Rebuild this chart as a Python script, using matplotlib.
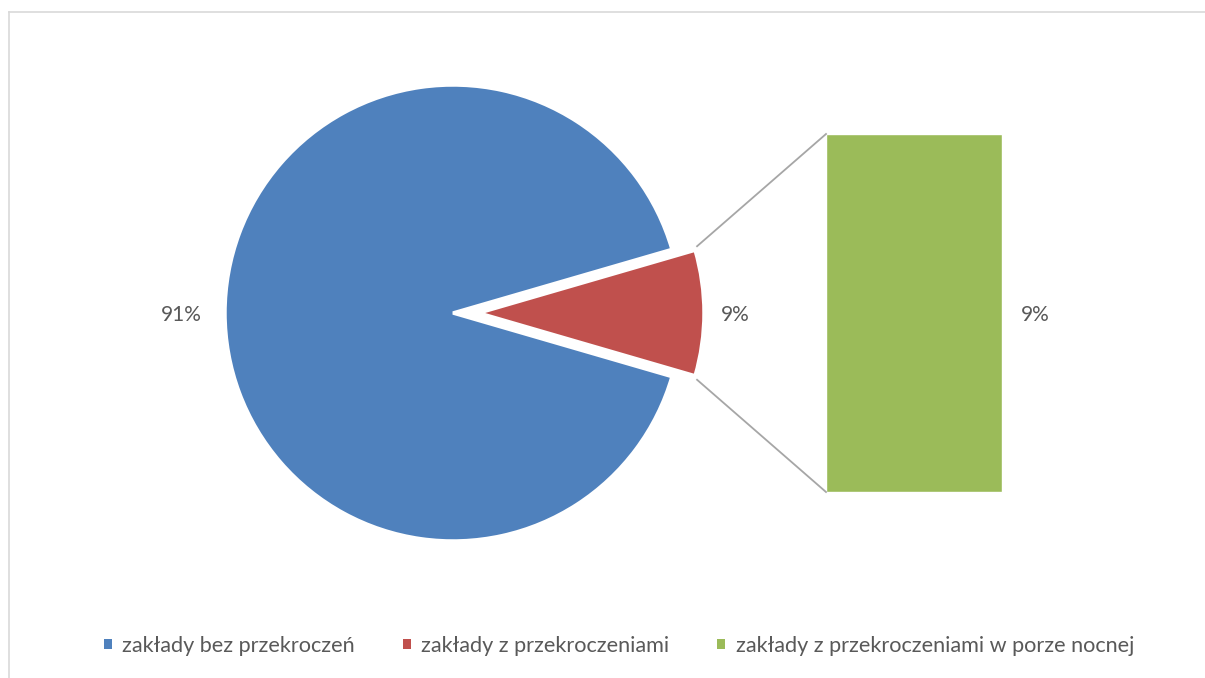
import numpy as np
import matplotlib
matplotlib.use("Agg")
import matplotlib.pyplot as plt
from matplotlib.lines import Line2D

# ---- data ----
pie_labels = ["zakłady bez przekroczeń", "zakłady z przekroczeniami"]
pie_values = [91, 9]
bar_labels = ["zakłady z przekroczeniami w porze nocnej"]
bar_values = [9]

colors = ["#4F81BD", "#C0504D", "#9BBB59"]
text_color = "#595959"
plt.rcParams['font.family'] = ['Lato', 'DejaVu Sans']

W, H = 1205, 678
fig = plt.figure(figsize=(W / 100, H / 100), dpi=100)
ax = fig.add_axes([0, 0, 1, 1])
ax.set_xlim(0, W)
ax.set_ylim(0, H)
ax.set_aspect('equal')
ax.axis('off')

cx, cy, R = 453, 365, 228
explode_px = 26
red_span = 360 * pie_values[1] / sum(pie_values)
start = red_span / 2
wedges, _ = ax.pie(pie_values, colors=colors[:2], startangle=start,
                   center=(cx, cy), radius=R, explode=[0, explode_px],
                   wedgeprops=dict(edgecolor='white', linewidth=2.5))
ax.set_xlim(0, W)
ax.set_ylim(0, H)
# the exploded point is drawn slightly smaller, as in the original
wedges[1].set_radius(R - 3)

# bar (pie-of-bar secondary)
bar_left, bar_w = 826, 176
bar_bottom = H - 492
scale = 358 / sum(bar_values)
bars = ax.bar([bar_left + bar_w / 2], [v * scale for v in bar_values],
              width=bar_w, bottom=bar_bottom, color=colors[2],
              edgecolor='white', linewidth=1.0)

# connectors
red_w = wedges[1]
rc = np.array(red_w.center)
th1, th2 = np.deg2rad(red_w.theta1), np.deg2rad(red_w.theta2)
rr = red_w.r
p_low = rc + rr * np.array([np.cos(th1), np.sin(th1)])
p_high = rc + rr * np.array([np.cos(th2), np.sin(th2)])
b = bars[0]
bx = b.get_x()
by0 = b.get_y()
by1 = b.get_y() + b.get_height()
ax.plot([p_high[0] + 2, bx], [p_high[1] + 4, by1], color="#A6A6A6", lw=1.3)
ax.plot([p_low[0] + 2, bx], [p_low[1] - 4, by0], color="#A6A6A6", lw=1.3)

# labels
tot = sum(pie_values)
fs_lab = 15
ax.text(cx - R * 1.19, cy - 2, f"{round(100 * pie_values[0] / tot)}%",
        ha='center', va='center', fontsize=fs_lab, color=text_color)
ax.text(rc[0] + R * 1.125, cy - 2, f"{round(100 * pie_values[1] / tot)}%",
        ha='center', va='center', fontsize=fs_lab, color=text_color)
ax.text(bx + bar_w + 33, cy - 2, f"{round(100 * pie_values[1] / tot)}%",
        ha='center', va='center', fontsize=fs_lab, color=text_color)

# legend
handles = [wedges[0], wedges[1], bars[0]]
leg = fig.legend(handles, pie_labels + bar_labels, loc='center',
                 bbox_to_anchor=(619 / W, 1 - 646 / H), ncol=3, frameon=False,
                 fontsize=15.6, handlelength=0.36, handleheight=0.36,
                 handletextpad=0.5, columnspacing=2.2, labelcolor=text_color)
for h in leg.legend_handles:
    h.set_edgecolor('none')

# chart border (top and left visible)
fig.add_artist(Line2D([8.5 / W, 1], [1 - 12 / H, 1 - 12 / H], transform=fig.transFigure,
                      color="#D9D9D9", lw=1.2))
fig.add_artist(Line2D([8.5 / W, 8.5 / W], [0, 1 - 12 / H], transform=fig.transFigure,
                      color="#D9D9D9", lw=1.2))

fig.savefig("out.png", dpi=100, facecolor='white')
